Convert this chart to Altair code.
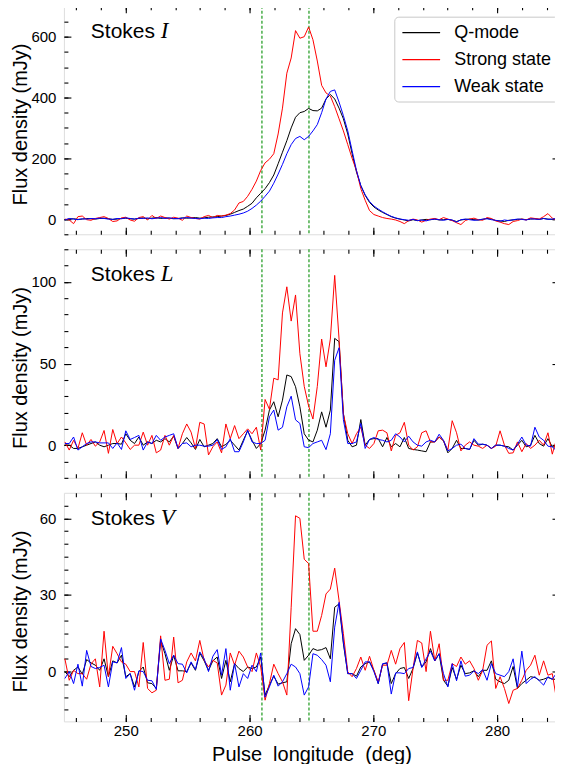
import altair as alt
import pandas as pd

# ---------------- data ----------------
lon_start = 245.08
lon_step = 0.3516
n_bins = 114
longitude = [round(lon_start + lon_step * k, 3) for k in range(n_bins)]

series_names = ["Q-mode", "Strong state", "Weak state"]
series_colors = ["#000000", "#ff0000", "#0000ff"]
boundaries = [261.0, 264.8]

I_qmode = [-2,0,1,-1,0,2,1,0,2,3,1,-1,0,2,3,1,0,2,4,1,3,5,2,4,3,1,2,4,3,4,5,3,4,6,7,8,
           10,12,16,22,28,33,42,52,70,85,100,120,145,182,220,258,300,335,350,354,364,357,356,365,395,
           410,395,365,330,280,215,155,110,78,55,40,30,22,15,8,3,
           0,-3,-6,-2,-5,-3,-1,-2,0,-3,-2,-1,-4,-8,-3,-1,0,-2,-3,-1,2,0,-5,-6,-8,-4,-3,-1,0,-2,0,1,-1,2,0,-1,1]
I_strong = [0,-3,-15,8,10,-2,-4,2,5,8,2,-8,-6,4,6,-3,-7,5,8,-3,12,2,10,5,0,6,3,-4,10,5,2,0,8,12,5,12,
            10,13,18,30,53,58,75,98,125,160,185,197,215,280,365,480,530,620,595,600,632,590,520,440,415,
            405,370,330,290,245,200,160,100,62,28,15,10,5,2,0,
            -3,-8,-15,-5,0,-3,-10,-4,0,2,-2,5,0,-5,-12,-18,-5,0,3,-2,-4,5,2,-6,-10,-15,-18,-8,-5,0,-3,4,2,0,8,18,3,-4]
I_weak = [-3,2,0,-2,1,0,2,1,3,2,0,-1,2,1,4,2,0,3,2,4,1,3,5,2,4,2,1,3,5,3,2,1,3,2,4,5,
          5,8,10,13,16,20,26,35,46,59,75,92,118,148,180,215,245,265,272,261,272,290,311,350,395,
          420,425,385,340,290,225,160,110,80,58,43,33,24,16,9,4,
          0,-2,-4,-1,-5,-3,-6,-2,0,-2,-4,-1,-3,-10,-2,0,-2,-4,-3,0,1,-2,-4,-7,-3,-5,-2,0,-1,-3,1,0,-1,2,-1,0,2]

L_qmode = [0,0,-2,-2,-1,0,1,2,0,-1,0,1,1,0.6,7,3,1,5,0,2,1,3,2,4,2,5.5,-2,1,4.7,1.4,-2.6,3.5,-1,0,1,4,-1,
           0.5,3,0,-3,3,8.8,3,-2,1,9.2,21.5,26.6,17.4,27.6,43,42,35.8,23.5,7,3.1,2,9.2,20.4,11,21.5,65.4,63.4,19.4,3,-1,0,15.7,
           0,3.5,4,4,-1,4.7,-1,1,-1,4.7,-2,-2.6,-3,-3.5,-4,2,2,5,2.7,-4.7,-2,3,-2,-2,-2.6,3,0,0.6,0,-2,0,0,-0.6,-1,-3,0,3,-1,0,6,1,-0.6,4,-1,-1]
L_strong = [2,-3,3,-2,7.6,0,3.5,-0.6,2,9,-5,9.6,1,5,1.4,-2.6,0,0,8,0,6,-4.7,-3,6,0,6,-2,7,13,8,-2,14,13,-6,-1,2,-4.7,
            13,4,12,4,7,10,7,11,-3,28,22,41,40,81,97,76,92,56,36,24,16,36,65,48,65,104,65,19,7,1,7,11,
            0,-2,1,8.8,9.2,7.6,-3.5,6,7.6,14,0,-3,-1,7.6,8.8,2,2,5,2.7,-3,15,7.6,-3.5,0,2,0,-0.6,-2,0,-2,-0.6,8.8,0,-5,-4.7,2,-4,1,-2,0,3,0,7.6,-5.5,4]
L_weak = [1,1,5,-3,-1,1,2,2,1.4,1.4,1.4,-2,1.4,-2.6,8.8,3.5,4.7,6,-3,2,1,6,3,5,6,7,-2,1,1.4,-1,0,0,-0.6,-0.6,0,3.5,-2.6,
          -1,4,-4,-4,2,9.2,2,1,1,3,17.4,21.5,9.2,11,23.5,30,15.5,13.3,-1,-1.5,1,2,3,-2.7,7,52,59.7,15.5,1,1,2,13.3,
          -2,3.5,4.7,3.5,3,2,3,7,5,2,5.5,2,0,-0.6,2,3,2,6.7,3,-3.5,-2,0,0.6,-2,-2.6,4,0.6,0.6,0,-2,0,0,-0.6,-2,-3,0.6,5,0,-0.6,11,5,3,-0.6,-1,-3.5]

V_qmode = [0,-2,0.5,1.8,-1,4.7,3.4,2.5,0.5,5,-2,4.2,3.4,6.4,-2,-0.8,-6,0,1.8,-4.4,-4.7,-6.6,12.2,7,0.5,6.4,0.3,0.3,0,3.4,0.5,7.3,4.2,0.5,4.2,5.7,
           -2.7,4.4,-4,3.1,1.2,0,1.8,1.2,1.8,5.7,-9.2,-5.3,-1.8,-4.9,-4.4,-4,10.9,16.8,14.5,4.4,6.4,9,8.3,8.6,9.4,5,25.2,26.5,10.9,-0.8,-0.8,-1.8,1.8,3.1,
           3.8,0.5,-4.7,2.9,3.4,-4.7,-0.8,1.2,1.6,-2.7,1.2,7.3,1.8,3.8,9,4.2,7,-3.4,-5.7,1.6,-3,2.5,-0.8,-0.5,0.3,-2,0.5,0.5,4.2,-3,-4,-4.7,-3.4,2,-6.6,-4.7,-3.4,-2,-2.3,-3.4,-3,-2.3,-3,-3]
V_strong = [5,-3.4,0.5,-0.8,-0.8,-3,3,5,-6,15.8,-2,9.9,7,3.8,2.9,0,0,-6,11.4,-6.6,-8.3,-7.3,14,-3.4,-3,13.5,-4.4,-3.4,3.8,7.3,4.2,12.2,4.4,1.8,4.4,3.4,
            -9.2,-5.3,7.3,2.5,8,5.7,1.8,0,7.3,1.8,-11.2,-4.7,2.9,-0.8,-4,-9.2,25.2,61,60,44,42.3,15.8,15.8,22,30.4,32.3,40.5,27.8,14.8,-0.1,-2,1.2,5.7,0.5,
            6,0.5,-4,2.5,2.5,8.3,2.9,9,11.4,-11.4,1.2,12.2,11.2,0,15.8,4.2,10.9,-3.4,-3.4,3.1,2,5.7,2.9,4.2,1.2,-3.4,0.5,10.3,12,-6.6,-2,-6.6,-12.5,-7.3,-6.6,-3.4,0.5,2.5,6.4,-1.4,4.2,-1.4,-0.8,-11.2]
V_weak = [-2.7,0,-4.7,2.9,-5.7,8.3,2,1.2,1.6,2.5,-6,3.8,3.4,9.4,-2.7,-0.8,-7.3,0.3,0,-3.4,-3.6,-7,12.8,8.3,3.1,6.4,3.1,2.9,-0.5,3.8,0.8,7.7,5,0,6,8.6,
          -1.4,9,-7.3,3.1,-6,-0.8,-2.7,2.5,0,7.3,-10,-6,-1.4,-5.7,-4,-0.8,2.9,1.8,-0.8,-9.2,-6,7,6.4,4.7,2.5,-4,17.4,27.1,11.6,-0.8,-0.8,-2.7,0.5,3.8,
          3.8,0,-4.7,3.1,3.4,-8.8,-0.5,-0.5,-0.8,1.2,1.6,7.7,1.6,5,8,4.2,7,-0.8,-6,3.1,-3.6,4.2,-1.8,-1.4,0.3,-0.8,0.8,-3.4,3.1,-0.8,-1.4,-2,0,5,-6,8,-4.7,-3,-2,-3.6,-5.3,-2,-3,-0.5]

x_domain = [245, 285]
x_major = [250, 260, 270, 280]
x_minor = list(range(246, 286, 2))

panels_spec = [
    dict(letter="I", series=[I_qmode, I_strong, I_weak], domain=[-50, 702],
         major=[0, 200, 400, 600], minor=list(range(-50, 701, 50))),
    dict(letter="L", series=[L_qmode, L_strong, L_weak], domain=[-20, 120],
         major=[0, 50, 100], minor=list(range(-20, 121, 10))),
    dict(letter="V", series=[V_qmode, V_strong, V_weak], domain=[-19.5, 70],
         major=[0, 30, 60], minor=list(range(-15, 70, 5))),
]

FONT = "Liberation Sans"
PANEL_W = 496
PANEL_H = 229
MAJ = {"expr": "-7"}
MIN = {"expr": "-4"}

color_scale = alt.Scale(domain=series_names, range=series_colors)


def make_panel(spec, first, last):
    for s in spec["series"]:
        assert len(s) == n_bins, len(s)
    rows = []
    for name, vals in zip(series_names, spec["series"]):
        for xv, yv in zip(longitude, vals):
            rows.append({"lon": xv, "flux": yv, "series": name})
    df = pd.DataFrame(rows)

    xs = alt.Scale(domain=x_domain, nice=False, zero=False)
    ys = alt.Scale(domain=spec["domain"], nice=False, zero=False)

    common = dict(domain=False, grid=False, tickColor="black", tickWidth=1.1)
    quiet = dict(labels=False, title=None, minExtent=0, maxExtent=0, labelPadding=0, **common)

    x_bottom = alt.Axis(orient="bottom", values=x_major, tickSize=MAJ, labels=last,
                        labelPadding=9, labelFontSize=15, labelColor="black", labelFont=FONT,
                        title="Pulse\u00a0 longitude\u00a0 (deg)" if last else None,
                        titleFontSize=20, titleFont=FONT, titleFontWeight="normal",
                        titleColor="black", titlePadding=6,
                        minExtent=0, **common)
    y_left = alt.Axis(orient="left", values=spec["major"], tickSize=MAJ, labelPadding=15,
                      labelFontSize=15, labelColor="black", labelFont=FONT,
                      title="Flux density (mJy)", titleFontSize=20, titleFont=FONT,
                      titleFontWeight="normal", titleColor="black", titleAngle=270,
                      titleX=-33, titleY=PANEL_H / 2 + 4, titleAlign="center",
                      titleBaseline="bottom", **common)

    if first:
        legend = alt.Legend(orient="none", legendX=331, legendY=11, title=None,
                            labelFontSize=18, labelFont=FONT, labelColor="black",
                            symbolType="M-2.1,0H2.1", symbolSize=324, symbolStrokeWidth=1.2,
                            symbolOffset=11, labelOffset=23,
                            strokeColor="#c8c8c8", fillColor="white", cornerRadius=4,
                            padding=6, rowPadding=8)
    else:
        legend = None

    lines = alt.Chart(df).mark_line(strokeWidth=1, clip=True).encode(
        x=alt.X("lon:Q", scale=xs, axis=x_bottom),
        y=alt.Y("flux:Q", scale=ys, axis=y_left),
        color=alt.Color("series:N", scale=color_scale, legend=legend),
        order=alt.Order("lon:Q"),
    )

    def ghost(xaxis, yaxis):
        return alt.Chart(df).mark_point(opacity=0, clip=True, size=1).encode(
            x=alt.X("lon:Q", scale=xs, axis=xaxis),
            y=alt.Y("flux:Q", scale=ys, axis=yaxis),
        )

    bottom_minor = alt.Axis(orient="bottom", values=x_minor, tickSize=MIN, **quiet)
    left_minor = alt.Axis(orient="left", values=spec["minor"], tickSize=MIN, **quiet)
    top_major = alt.Axis(orient="top", values=x_major, tickSize=MAJ, **quiet)
    right_major = alt.Axis(orient="right", values=spec["major"], tickSize=MAJ, **quiet)
    top_minor = alt.Axis(orient="top", values=x_minor, tickSize=MIN, **quiet)
    right_minor = alt.Axis(orient="right", values=spec["minor"], tickSize=MIN, **quiet)

    rules = alt.Chart(pd.DataFrame({"b": boundaries})).mark_rule(
        color="#2ca02c", strokeDash=[3, 2], strokeWidth=1.3
    ).encode(x=alt.X("b:Q", scale=xs, axis=None))

    stokes = alt.Chart(pd.DataFrame({"t": ["Stokes"]})).mark_text(
        align="left", baseline="alphabetic", fontSize=21, font=FONT, color="black"
    ).encode(text="t:N", x=alt.value(27), y=alt.value(32))
    letter = alt.Chart(pd.DataFrame({"t": [spec["letter"]]})).mark_text(
        align="left", baseline="alphabetic", fontSize=23, font="Liberation Serif",
        fontStyle="italic", color="black"
    ).encode(text="t:N", x=alt.value(97), y=alt.value(32))

    layer = alt.layer(
        rules,
        lines,
        ghost(bottom_minor, left_minor),
        ghost(top_major, right_major),
        ghost(top_minor, right_minor),
        stokes,
        letter,
    ).resolve_axis(x="independent", y="independent").properties(width=PANEL_W, height=PANEL_H)
    return layer


panels = [make_panel(s, i == 0, i == len(panels_spec) - 1) for i, s in enumerate(panels_spec)]

chart = alt.vconcat(*panels, spacing=11).resolve_legend(color="independent").properties(
    padding={"left": 2, "top": -5, "right": -6, "bottom": 0}
).configure_view(stroke="black", strokeWidth=1.2).configure(font=FONT)

chart.save("out.html", embed_options={"renderer": "svg", "actions": False})
